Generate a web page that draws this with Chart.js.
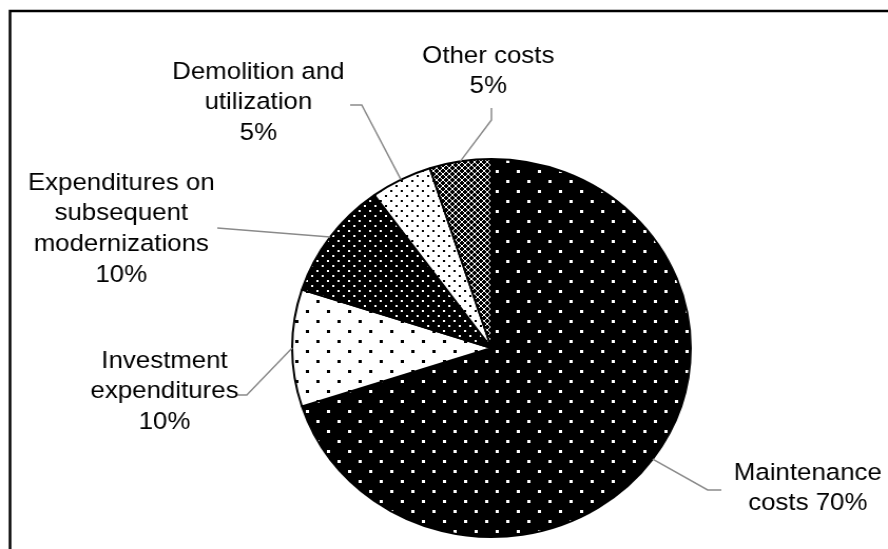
<!DOCTYPE html>
<html>
<head>
<meta charset="utf-8">
<script src="https://cdn.jsdelivr.net/npm/chart.js@4/dist/chart.umd.min.js"></script>
<style>
  html, body { margin: 0; padding: 0; background: #fff; overflow: hidden; }
  #wrap { position: absolute; left: 0; top: 0; width: 842px; height: 549px; transform: scaleX(1.0546); transform-origin: 0 0; }
</style>
</head>
<body>
<div id="wrap"><canvas id="costChart" width="842" height="549"></canvas></div>
<script>
// life-cycle cost structure (share of total, %)
var categories = ['Maintenance costs', 'Investment expenditures', 'Expenditures on subsequent modernizations', 'Demolition and utilization', 'Other costs'];
var shares = [70, 10, 10, 5, 5];
var labelLines = [
    ['Maintenance', 'costs {v}'],
    ['Investment', 'expenditures', '{v}'],
    ['Expenditures on', 'subsequent', 'modernizations', '{v}'],
    ['Demolition and', 'utilization', '{v}'],
    ['Other costs', '{v}']
];

var ctx = document.getElementById('costChart').getContext('2d');

// small repeating tiles used as slice fills
function tile(size, bg, fg, paint) {
    var c = document.createElement('canvas');
    c.width = size; c.height = size;
    var g = c.getContext('2d');
    g.fillStyle = bg;
    g.fillRect(0, 0, size, size);
    g.fillStyle = fg;
    paint(g);
    return ctx.createPattern(c, 'repeat');
}
var sparseWhite = tile(20, '#000', '#fff', function (g) { g.fillRect(0, 0, 3, 3); g.fillRect(10, 10, 3, 3); });
var sparseBlack = tile(20, '#fff', '#000', function (g) { g.fillRect(0, 0, 3, 3); g.fillRect(10, 10, 3, 3); });
var denseWhite = tile(10, '#000', '#fff', function (g) { g.fillRect(0, 0, 2, 2); g.fillRect(5, 5, 2, 2); });
var denseBlack = tile(10, '#fff', '#000', function (g) { g.fillRect(0, 0, 2, 2); g.fillRect(5, 5, 2, 2); });
var mesh = tile(6, '#000', '#fff', function (g) {
    for (var i = 0; i < 6; i++) { g.fillRect(i, i, 1, 1); g.fillRect(5 - i, i, 1, 1); }
});

// where each label sits and the bend of its leader line
var labelPos = [
    { x: 766, y: 473, path: [[671, 490], [684, 490]], fromArc: true },
    { x: 156, y: 361, path: [[225, 395], [234, 395]] },
    { x: 115, y: 183, path: [[206, 228]] },
    { x: 245, y: 72, path: [[332, 105], [343, 105]] },
    { x: 463, y: 56, path: [[466, 108], [466, 120]] }
];

var calloutPlugin = {
    id: 'callouts',
    beforeDraw: function (chart) {
        var c = chart.ctx;
        c.save();
        c.strokeStyle = '#000';
        c.lineWidth = 2.5;
        c.beginPath();
        c.moveTo(9.5, 560);
        c.lineTo(9.5, 11);
        c.lineTo(860, 11);
        c.stroke();
        c.restore();
    },
    afterDraw: function (chart) {
        var c = chart.ctx;
        var arcs = chart.getDatasetMeta(0).data;
        c.save();
        c.strokeStyle = '#8a8a8a';
        c.lineWidth = 1.5;
        arcs.forEach(function (el, i) {
            var mid = (el.startAngle + el.endAngle) / 2;
            var edge = [el.x + Math.cos(mid) * el.outerRadius, el.y + Math.sin(mid) * el.outerRadius];
            var pts = labelPos[i].fromArc ? [edge].concat(labelPos[i].path) : labelPos[i].path.concat([edge]);
            c.beginPath();
            c.moveTo(pts[0][0], pts[0][1]);
            for (var k = 1; k < pts.length; k++) c.lineTo(pts[k][0], pts[k][1]);
            c.stroke();
        });
        c.fillStyle = '#000';
        c.font = '24.5px "Liberation Sans", Arial, sans-serif';
        c.textAlign = 'center';
        c.textBaseline = 'middle';
        labelLines.forEach(function (lines, i) {
            lines.forEach(function (t, k) {
                c.fillText(t.replace('{v}', shares[i] + '%'), labelPos[i].x, labelPos[i].y + k * 30.7);
            });
        });
        c.restore();
    }
};

var costChart = new Chart(ctx, {
    type: 'pie',
    data: {
        labels: categories,
        datasets: [{
            data: shares,
            backgroundColor: [sparseWhite, sparseBlack, denseWhite, denseBlack, mesh],
            borderColor: '#000',
            borderWidth: 2
        }]
    },
    options: {
        responsive: false,
        animation: false,
        devicePixelRatio: 1,
        layout: {
            padding: { left: 270, right: 180, top: 158, bottom: 11 }
        },
        plugins: {
            legend: { display: false },
            tooltip: { enabled: false }
        }
    },
    plugins: [calloutPlugin]
});
</script>
</body>
</html>
